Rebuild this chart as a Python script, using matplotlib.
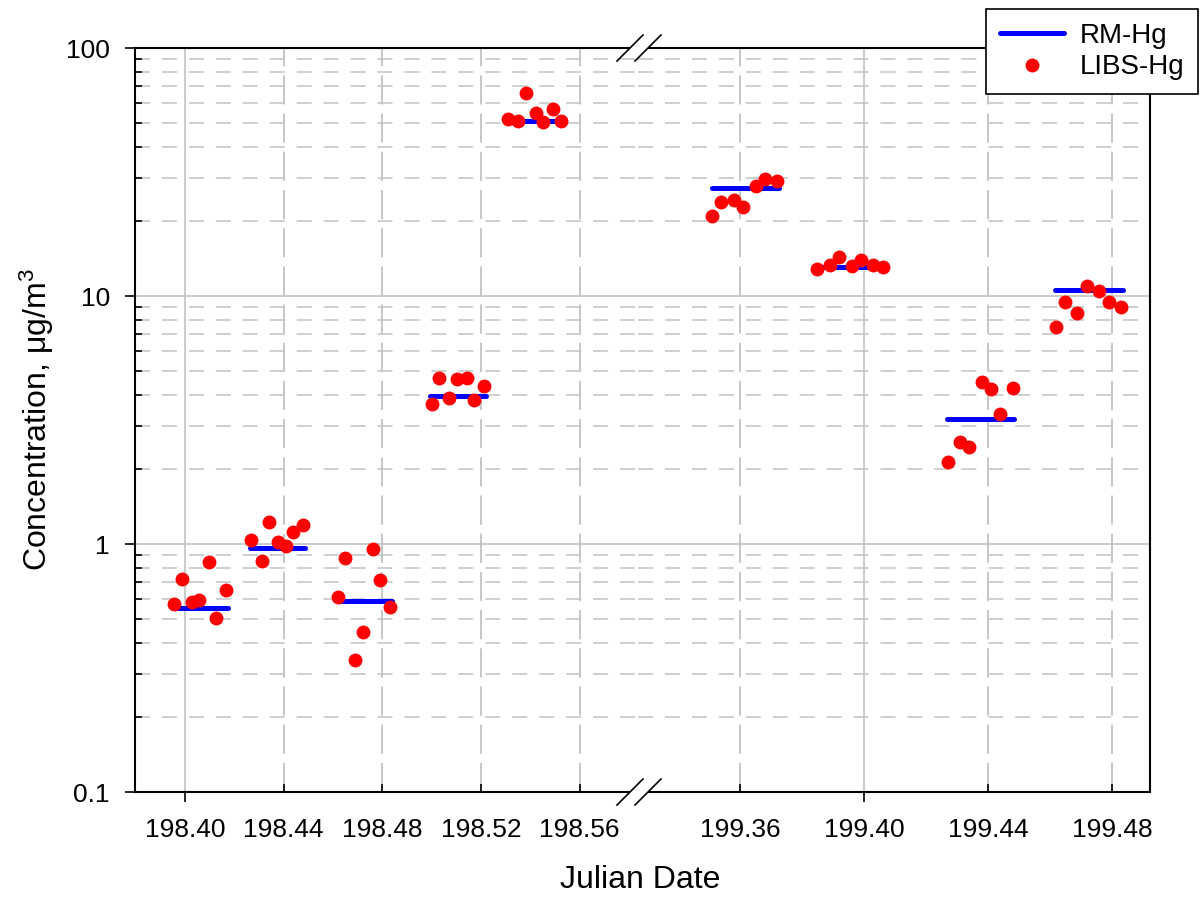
"""RM-Hg vs LIBS-Hg concentration with a broken Julian-date axis."""
import matplotlib
matplotlib.use("Agg")
import matplotlib.pyplot as plt
from matplotlib.lines import Line2D
from matplotlib.patches import Rectangle

plt.rcParams.update({"font.family": ["Liberation Sans", "DejaVu Sans"],
                     "mathtext.fontset": "custom", "mathtext.rm": "Liberation Sans",
                     "mathtext.it": "Liberation Sans", "lines.scale_dashes": False})

BLUE, RED, GRID = "#0000ff", "#ff0000", "#c2c2c2"

# LIBS-Hg points (date, concentration) for each sampling period
libs_date_1 = [198.3957, 198.3988, 198.4027, 198.4058, 198.4097, 198.4127, 198.4166,
               198.4269, 198.4311, 198.4339, 198.4378, 198.4409, 198.4438, 198.4480,
               198.4619, 198.4650, 198.4690, 198.4720, 198.4761, 198.4790, 198.4830,
               198.5000, 198.5030, 198.5070, 198.5101, 198.5142, 198.5171, 198.5211,
               198.5311, 198.5351, 198.5381, 198.5422, 198.5452, 198.5490, 198.5523]
libs_conc_1 = [0.573, 0.725, 0.582, 0.594, 0.844, 0.501, 0.652,
               1.035, 0.857, 1.226, 1.019, 0.985, 1.121, 1.196,
               0.613, 0.876, 0.341, 0.442, 0.955, 0.716, 0.555,
               3.67, 4.66, 3.89, 4.63, 4.69, 3.80, 4.34,
               51.7, 50.6, 65.7, 54.8, 50.1, 56.6, 50.6]
libs_date_2 = [199.3511, 199.3540, 199.3581, 199.3611, 199.3651, 199.3682, 199.3720,
               199.3849, 199.3890, 199.3920, 199.3960, 199.3990, 199.4029, 199.4060,
               199.4270, 199.4309, 199.4340, 199.4380, 199.4409, 199.4439, 199.4480,
               199.4618, 199.4648, 199.4688, 199.4719, 199.4759, 199.4789, 199.4828]
libs_conc_2 = [21.1, 23.9, 24.4, 22.9, 27.8, 29.6, 29.2,
               12.9, 13.3, 14.4, 13.2, 14.0, 13.3, 13.1,
               2.15, 2.58, 2.47, 4.49, 4.21, 3.35, 4.27,
               7.48, 9.46, 8.57, 11.0, 10.5, 9.49, 9.03]

# RM-Hg period averages: start, end, value
rm_start_1 = [198.3966, 198.4263, 198.4621, 198.4993, 198.5317]
rm_end_1 = [198.4176, 198.4486, 198.4838, 198.5220, 198.5533]
rm_conc_1 = [0.552, 0.966, 0.587, 3.96, 50.8]
rm_start_2 = [199.3509, 199.3858, 199.4267, 199.4616]
rm_end_2 = [199.3727, 199.4068, 199.4485, 199.4835]
rm_conc_2 = [27.3, 13.1, 3.18, 10.6]

major_1, minor_1 = [198.40], [198.44, 198.48, 198.52, 198.56]
major_2, minor_2 = [199.40], [199.36, 199.44, 199.48]

W, H = 1204, 899
fig = plt.figure(figsize=(W / 100, H / 100), dpi=100)
L, R, B, T, BRK = 135, 1150, 792, 48, 638
ax1 = fig.add_axes([L / W, 1 - B / H, (BRK - L) / W, (B - T) / H])
ax2 = fig.add_axes([BRK / W, 1 - B / H, (R - BRK) / W, (B - T) / H], sharey=ax1)

panels = [(ax1, libs_date_1, libs_conc_1, rm_start_1, rm_end_1, rm_conc_1, major_1, minor_1,
           (198.37973, 198.58362)),
          (ax2, libs_date_2, libs_conc_2, rm_start_2, rm_end_2, rm_conc_2, major_2, minor_2,
           (199.32710, 199.49226))]
for ax, xd, yd, s, e, rc, mj, mn, xl in panels:
    for x0, x1, v in zip(s, e, rc):
        ax.plot([x0, x1], [v, v], color=BLUE, lw=3.6, solid_capstyle="round", zorder=3)
    ax.plot(xd, yd, "o", color=RED, ms=10, mec="none", zorder=4)
    ax.set_yscale("log")
    ax.set_ylim(0.1, 100)
    ax.set_xlim(*xl)
    ax.set_xticks(mj)
    ax.set_xticklabels([f"{v:.2f}" for v in mj])
    ax.set_xticks(mn, minor=True)
    ax.set_xticklabels([f"{v:.2f}" for v in mn], minor=True)
    ax.set_axisbelow(True)
    ax.grid(True, which="major", axis="both", color=GRID, lw=1.2)
    ax.grid(True, which="minor", axis="y", color=GRID, lw=1.1, dashes=(10.8, 8.6))
    ax.grid(True, which="minor", axis="x", color=GRID, lw=1.3, dashes=(21, 6.5))
    ax.tick_params(axis="x", which="major", direction="out", length=7, width=1.2,
                   labelsize=19, pad=11.5)
    ax.tick_params(axis="x", which="minor", direction="in", length=6, width=1.2,
                   labelsize=19, pad=18.5)
    for sp in ax.spines.values():
        sp.set_linewidth(1.5)

ax1.set_yticks([0.1, 1, 10, 100])
ax1.set_yticklabels(["0.1", "1", "10", "100"])
ax1.tick_params(axis="y", which="major", direction="out", length=7, width=1.2,
                labelsize=19, pad=11)
ax1.tick_params(axis="y", which="minor", direction="in", length=5, width=1.2, labelleft=False)
ax1.spines["right"].set_visible(False)
ax2.spines["left"].set_visible(False)
ax2.tick_params(axis="y", which="both", left=False, labelleft=False)

# break marks
for yb in (T, B):
    fig.add_artist(Rectangle(((BRK - 8) / W, 1 - (yb + 3) / H), 18 / W, 6 / H,
                             transform=fig.transFigure, fc="white", ec="none", zorder=5))
    for dx in (0, 18):
        fig.add_artist(Line2D([(617 + dx) / W, (643 + dx) / W],
                              [1 - (yb + 13) / H, 1 - (yb - 13) / H],
                              transform=fig.transFigure, color="black", lw=1.2, zorder=6))

fig.text(640 / W, 1 - 880 / H, "Julian Date", ha="center", va="center", fontsize=23)
fig.text(37 / W, 1 - 420 / H, "Concentration, μg/m$^3$", ha="center", va="center",
         rotation=90, fontsize=23)

handles = [Line2D([], [], color=BLUE, lw=3.6, solid_capstyle="round"),
           Line2D([], [], ls="none", marker="o", color=RED, ms=10, mec="none")]
leg = fig.legend(handles, ["RM-Hg", "LIBS-Hg"], loc="upper right",
                 bbox_to_anchor=(1198 / W, 1 - 9 / H), fontsize=20, frameon=True,
                 fancybox=False, edgecolor="black", framealpha=1, handlelength=2.3,
                 handletextpad=0.55, labelspacing=0.2, borderpad=0.5, borderaxespad=0)
leg.get_frame().set_linewidth(1.2)

fig.savefig("out.png", dpi=100)
